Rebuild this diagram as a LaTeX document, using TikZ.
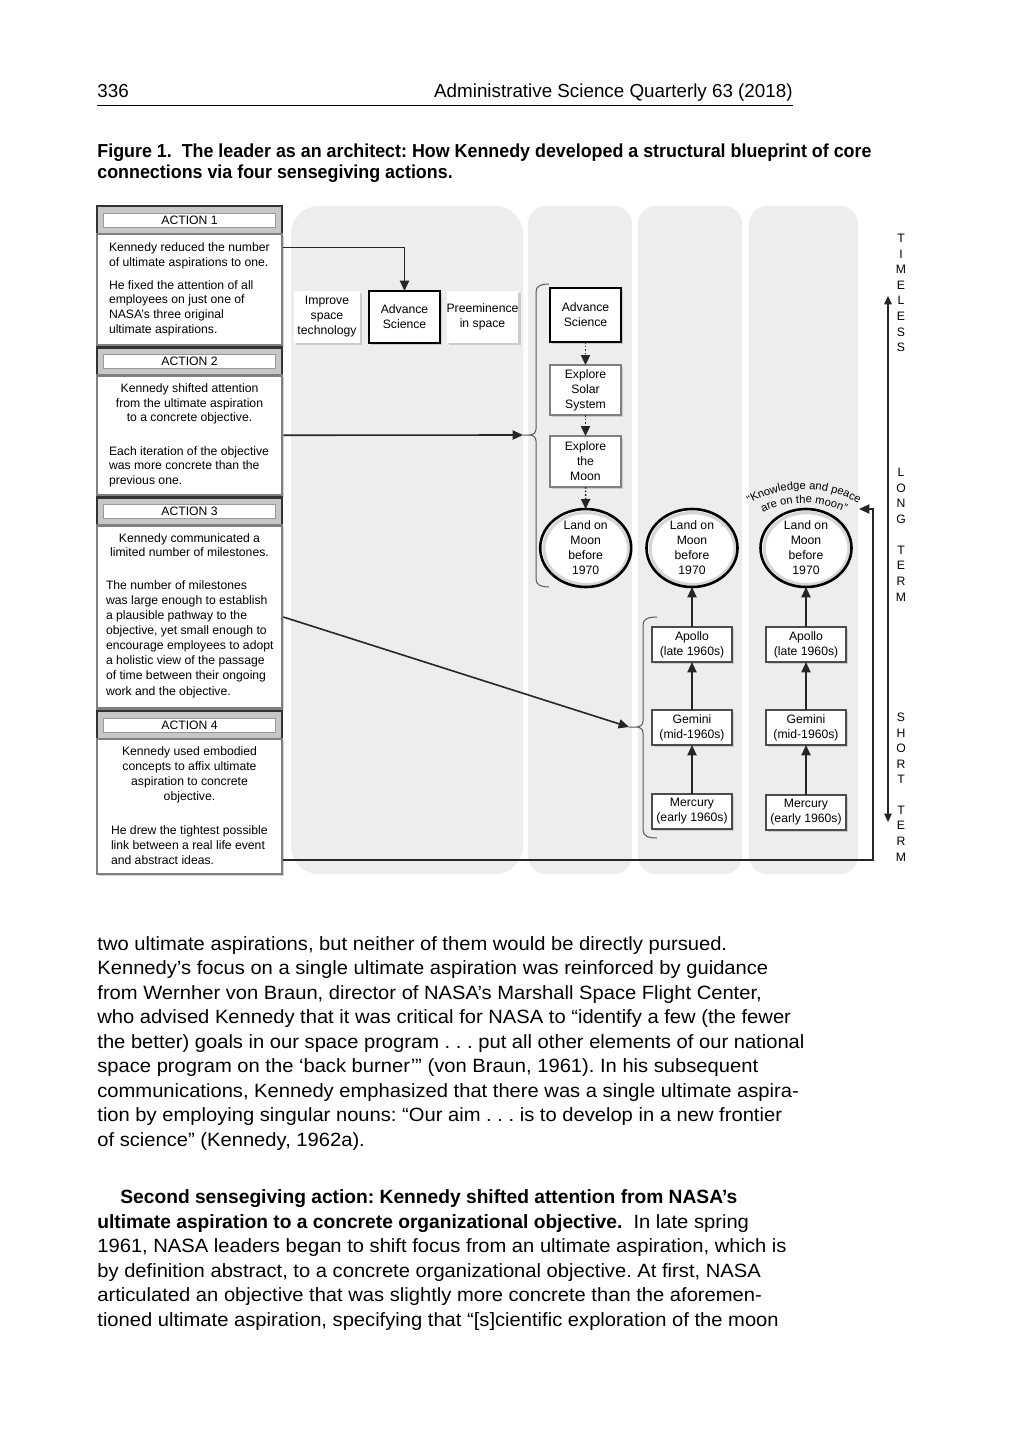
\documentclass[tikz,border=0pt]{standalone}
\usepackage{fontspec}
\setmainfont{Liberation Sans}
\newfontfamily\bodyfont[FakeStretch=1.05]{Liberation Sans}
\newfontfamily\medfont{Liberation Sans}
\newfontfamily\headfont{Liberation Sans}
\newfontfamily\capfont[FakeStretch=0.95]{Liberation Sans}
\usetikzlibrary{arrows.meta,decorations.text,shadows,shapes.geometric,calc}
\frenchspacing

\newcommand\linesat[6]{%
  \foreach \ltext [count=\li] in {#6}{%
    \node[#1] (#2-\li) at (#3,{#4+(\li-1)*#5}) {\ltext};}}

\tikzset{
  sm/.style={font=\fontsize{6.1bp}{7.5bp}\selectfont, inner sep=0pt, outer sep=0pt},
  smL/.style={sm, anchor=base west},
  smC/.style={sm, anchor=base},
  bodyln/.style={font=\bodyfont\fontsize{9.6bp}{12.25bp}\selectfont, inner sep=0pt, anchor=base west},
  hdrtxt/.style={font=\headfont\fontsize{9.4bp}{11bp}\selectfont, inner sep=0pt},
  capln/.style={font=\capfont\bfseries\fontsize{9.4bp}{11bp}\selectfont, inner sep=0pt, anchor=base west},
  panel/.style={fill=black!7, draw=none, rounded corners=14bp},
  panelN/.style={fill=black!7, draw=none, rounded corners=9bp},
  acthdr/.style={sm, draw=black!80, line width=1.1bp, fill=black!22,
    minimum width=92.5bp, minimum height=14bp,
    path picture={\draw[fill=white, draw=black!40, line width=0.5bp]
      ([xshift=3.5bp,yshift=-3.5bp]path picture bounding box.north west) rectangle
      ([xshift=-3.5bp,yshift=3.5bp]path picture bounding box.south east);}},
  acttxt/.style={draw=black!50, line width=1.3bp, fill=white, minimum width=92.5bp, inner sep=0pt,
    drop shadow={shadow xshift=0.8bp, shadow yshift=-0.8bp, opacity=0.35}},
  shad/.style={drop shadow={shadow xshift=1.1bp, shadow yshift=-1.1bp, opacity=0.3}},
  plainbox/.style={sm, align=center, fill=white, minimum height=26bp, shad},
  boldbox/.style={sm, align=center, fill=white, draw=black, line width=1.4bp, minimum width=35.5bp, shad},
  greybox/.style={sm, align=center, fill=white, draw=black!50, line width=1.3bp, minimum width=35.5bp, shad},
  progbox/.style={sm, align=center, fill=white, draw=black!70, line width=1bp, minimum width=40bp, minimum height=17.5bp, shad},
  moon/.style={sm, align=center, ellipse, fill=white, draw=black, line width=1.3bp,
    minimum width=45.5bp, minimum height=39bp, inner xsep=0pt, inner ysep=-5bp,
    path picture={\draw[black!16, line width=1.6bp] ([xshift=0.3bp,yshift=-0.3bp]path picture bounding box.center)
      ellipse [x radius=21.2bp, y radius=18bp];}},
  conn/.style={draw=black!85, line width=0.8bp},
  tip/.style={-{Triangle[length=5.2bp,width=4.6bp]}},
  dotarr/.style={draw=black!85, line width=0.8bp, densely dotted, -{Triangle[length=5bp,width=4.6bp]}},
  brace/.style={draw=black!65, line width=0.5bp},
  axis/.style={draw=black!85, line width=0.6bp, {Triangle[length=4.2bp,width=3.8bp]}-{Triangle[length=4.2bp,width=3.8bp]}},
  vlet/.style={sm, align=center, font=\fontsize{6.1bp}{7.8bp}\selectfont},
}

\begin{document}
\begin{tikzpicture}[x=0.5bp, y=-0.5bp]
\useasboundingbox (0,0) rectangle (1008,1440);
\fill[white] (0,0) rectangle (1008,1440);

% ---------- running head and caption ----------
\node[hdrtxt, anchor=base west] (pg) at (97,98) {336};
\node[hdrtxt, anchor=base east] (jr) at (793,98) {Administrative Science Quarterly 63 (2018)};
\draw[line width=0.5bp] (97,106) -- (793,106);
\node[capln] (cap1) at (97,157) {Figure 1.\ \ The leader as an architect: How Kennedy developed a structural blueprint of core};
\node[capln] (cap2) at (97,178) {connections via four sensegiving actions.};

% ---------- grey panels ----------
\path[panel] (291,206) rectangle (523,874);
\path[panelN] (528,206) rectangle (632,874);
\path[panelN] (638,206) rectangle (742,874);
\path[panelN] (749,206) rectangle (858,874);

% ---------- action column ----------
\node[acthdr] (h1) at (189.5,220) {ACTION 1};
\node[acttxt, minimum height=55.5bp] (t1) at (189.5,289.5) {};
\node[acthdr] (h2) at (189.5,361.5) {ACTION 2};
\node[acttxt, minimum height=59.75bp] (t2) at (189.5,435.25) {};
\node[acthdr] (h3) at (189.5,511.5) {ACTION 3};
\node[acttxt, minimum height=91.5bp] (t3) at (189.5,617) {};
\node[acthdr] (h4) at (189.5,725) {ACTION 4};
\node[acttxt, minimum height=67.5bp] (t4) at (189.5,806.5) {};

\linesat{smL}{a1a}{109}{251.5}{14.6}{{Kennedy reduced the number},{of ultimate aspirations to one.}}
\linesat{smL}{a1b}{109}{289}{14.9}{{He fixed the attention of all},{employees on just one of},{NASA’s three original},{ultimate aspirations.}}
\linesat{smC}{a2a}{189.5}{392.3}{14.8}{{Kennedy shifted attention},{from the ultimate aspiration},{to a concrete objective.}}
\linesat{smL}{a2b}{109}{455}{14.7}{{Each iteration of the objective},{was more concrete than the},{previous one.}}
\linesat{smC}{a3a}{189.5}{542.3}{14.5}{{Kennedy communicated a},{limited number of milestones.}}
\linesat{smL}{a3b}{106}{589}{15.15}{{The number of milestones},{was large enough to establish},{a plausible pathway to the},{objective, yet small enough to},{encourage employees to adopt},{a holistic view of the passage},{of time between their ongoing},{work and the objective.}}
\linesat{smC}{a4a}{189.5}{755}{15}{{Kennedy used embodied},{concepts to affix ultimate},{aspiration to concrete},{objective.}}
\linesat{smL}{a4b}{111}{834}{15.15}{{He drew the tightest possible},{link between a real life event},{and abstract ideas.}}

% ---------- panel 1 ----------
\node[plainbox, minimum width=33bp] (imp) at (327,317) {Improve\\space\\technology};
\node[boldbox, minimum height=26bp] (adv1) at (404.5,317) {Advance\\Science};
\node[plainbox, minimum width=35.5bp] (pre) at (482.5,317) {Preeminence\\in space};

% ---------- panel 2 ----------
\node[boldbox, minimum height=27bp] (adv2) at (585.5,315) {Advance\\Science};
\node[greybox, minimum height=25bp] (exs) at (585.5,390) {Explore\\Solar\\System};
\node[greybox, minimum height=25.5bp] (exm) at (585.5,461.5) {Explore\\the\\Moon};
\node[moon] (m1) at (585.7,548) {Land on\\Moon\\before\\1970};

% ---------- panels 3 and 4 ----------
\node[moon] (m2) at (692,548) {Land on\\Moon\\before\\1970};
\node[progbox] (ap2) at (692,644.5) {Apollo\\(late 1960s)};
\node[progbox] (ge2) at (692,727.5) {Gemini\\(mid-1960s)};
\node[progbox] (me2) at (692,811.5) {Mercury\\(early 1960s)};
\node[moon] (m3) at (806,548) {Land on\\Moon\\before\\1970};
\node[progbox] (ap3) at (806,644.5) {Apollo\\(late 1960s)};
\node[progbox] (ge3) at (806,727.5) {Gemini\\(mid-1960s)};
\node[progbox] (me3) at (806,812) {Mercury\\(early 1960s)};

% ---------- braces ----------
\draw[brace] (549,284) .. controls (541,284) and (536,286) .. (536,292) -- (536,429)
  .. controls (536,433) and (533,435) .. (529,435) -- (523,435) -- (529,435)
  .. controls (533,435) and (536,437) .. (536,441) -- (536,579)
  .. controls (536,585) and (541,587) .. (549,587);
\coordinate (b2tip) at (523,435);
\draw[brace] (657,617) .. controls (648,617) and (643,619) .. (643,625) -- (643,721)
  .. controls (643,725) and (640,727) .. (636,727) -- (629,727) -- (636,727)
  .. controls (640,727) and (643,729) .. (643,733) -- (643,830)
  .. controls (643,836) and (648,838) .. (657,838);
\coordinate (b3tip) at (629,727);

% ---------- connectors ----------
\coordinate (y1) at (0,247.5);
\draw[conn,tip] (t1.east |- y1) -| (adv1.north);
\draw[conn,tip] (t2.east) -- (b2tip);
\draw[conn,tip] (t3.east) -- (b3tip);
\draw[dotarr] (adv2) -- (exs);
\draw[dotarr] (exs) -- (exm);
\draw[dotarr] (exm) -- (m1);
\draw[conn,tip] (me2) -- (ge2);
\draw[conn,tip] (ge2) -- (ap2);
\draw[conn,tip] (ap2) -- (m2);
\draw[conn,tip] (me3) -- (ge3);
\draw[conn,tip] (ge3) -- (ap3);
\draw[conn,tip] (ap3) -- (m3);
\coordinate (r4) at (873,860);
\coordinate (kq) at (859,509);
\draw[conn,tip] (t4.east |- r4) -- (r4) |- (kq);

% ---------- curved quotation ----------
\coordinate (arcc) at (804,598);
\path[decorate, decoration={text along path, text align=center,
  text={|\fontsize{5.6bp}{6.5bp}\selectfont|“Knowledge and peace}}]
  ([shift={(160:54.5bp)}]arcc) arc[start angle=160, end angle=20, radius=54.5bp];
\path[decorate, decoration={text along path, text align=center,
  text={|\fontsize{5.6bp}{6.5bp}\selectfont|are on the moon”}}]
  ([shift={(160:47.5bp)}]arcc) arc[start angle=160, end angle=20, radius=47.5bp];

% ---------- time axis ----------
\coordinate (ax1) at (888,296);
\coordinate (ax2) at (888,822);
\draw[axis] (ax1) -- (ax2);
\node[vlet] (tl) at (901,293) {T\\I\\M\\E\\L\\E\\S\\S};
\node[vlet] (lg) at (901,496) {L\\O\\N\\G};
\node[vlet] (lt) at (901,573.5) {T\\E\\R\\M};
\node[vlet] (sh) at (901,748.5) {S\\H\\O\\R\\T};
\node[vlet] (st) at (901,833.5) {T\\E\\R\\M};

% ---------- body text ----------
\linesat{bodyln}{p1}{97}{950}{24.5}{%
{two ultimate aspirations, but neither of them would be directly pursued.},
{Kennedy’s focus on a single ultimate aspiration was reinforced by guidance},
{from Wernher von Braun, director of NASA’s Marshall Space Flight Center,},
{who advised Kennedy that it was critical for NASA to “identify a few (the fewer},
{the better) goals in our space program . . . put all other elements of our national},
{space program on the ‘back burner’” (von Braun, 1961). In his subsequent},
{communications, Kennedy emphasized that there was a single ultimate aspira-},
{tion by employing singular nouns: “Our aim . . . is to develop in a new frontier},
{of science” (Kennedy, 1962a).}}
\node[bodyln] (p2-1) at (120,1203.5) {\medfont\bfseries Second sensegiving action: Kennedy shifted attention from NASA’s};
\node[bodyln] (p2-2) at (97,1228) {{\medfont\bfseries ultimate aspiration to a concrete organizational objective.}\ \ In late spring};
\linesat{bodyln}{p2}{97}{1252.5}{24.5}{%
{1961, NASA leaders began to shift focus from an ultimate aspiration, which is},
{by definition abstract, to a concrete organizational objective. At first, NASA},
{articulated an objective that was slightly more concrete than the aforemen-},
{tioned ultimate aspiration, specifying that “[s]cientific exploration of the moon}}
\end{tikzpicture}
\end{document}
